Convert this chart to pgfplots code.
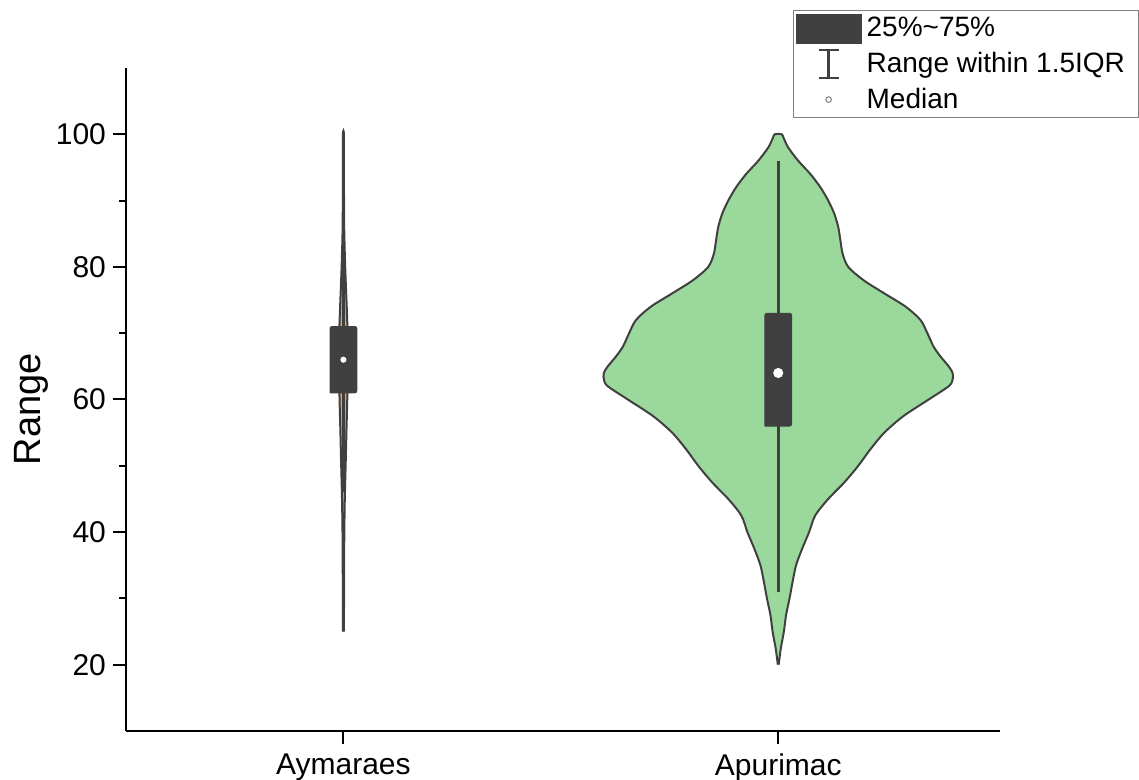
\documentclass[border=0pt]{standalone}
\usepackage{fontspec}
\setmainfont{Liberation Sans}
\usepackage{pgfplots}
\usepackage{pgfplotstable}
\pgfplotsset{compat=1.18}

\definecolor{boxgray}{RGB}{64,64,64}
\definecolor{violgreen}{RGB}{155,216,155}
\definecolor{violtan}{RGB}{226,160,100}
\definecolor{legframe}{RGB}{128,128,128}

% Violin outlines: y value and signed half-width (x units), right side going up, left side coming down
\pgfplotstableread{
y d
20 0.001
22.5 0.006
25 0.013
27.5 0.018
30 0.026
32.5 0.033
35 0.041
37.5 0.055
40 0.071
42.5 0.085
45 0.115
47.5 0.152
50 0.184
52.5 0.212
55 0.244
57.5 0.288
60 0.346
62 0.392
63 0.401
64 0.401
65 0.392
66.5 0.373
68 0.357
70 0.343
72 0.327
74 0.293
76 0.244
78 0.196
80 0.161
82 0.148
84 0.143
86 0.138
88 0.129
90 0.115
92 0.097
94 0.074
96 0.046
98 0.023
99.5 0.012
100 0.008
100 -0.008
99.5 -0.012
98 -0.023
96 -0.046
94 -0.074
92 -0.097
90 -0.115
88 -0.129
86 -0.138
84 -0.143
82 -0.148
80 -0.161
78 -0.196
76 -0.244
74 -0.293
72 -0.327
70 -0.343
68 -0.357
66.5 -0.373
65 -0.392
64 -0.401
63 -0.401
62 -0.392
60 -0.346
57.5 -0.288
55 -0.244
52.5 -0.212
50 -0.184
47.5 -0.152
45 -0.115
42.5 -0.085
40 -0.071
37.5 -0.055
35 -0.041
32.5 -0.033
30 -0.026
27.5 -0.018
25 -0.013
22.5 -0.006
20 -0.001
}\apurimac

\pgfplotstableread{
y d
25 0.0012
30 0.0014
35 0.0016
40 0.0021
45 0.0032
50 0.0051
55 0.0069
58 0.0081
61 0.0092
64 0.0101
66 0.0104
68 0.0101
71 0.0092
74 0.0076
77 0.0058
80 0.0041
83 0.0028
86 0.0018
90 0.0014
95 0.0012
100 0.0012
100 -0.0012
95 -0.0012
90 -0.0014
86 -0.0018
83 -0.0028
80 -0.0041
77 -0.0058
74 -0.0076
71 -0.0092
68 -0.0101
66 -0.0104
64 -0.0101
61 -0.0092
58 -0.0081
55 -0.0069
50 -0.0051
45 -0.0032
40 -0.0021
35 -0.0016
30 -0.0014
25 -0.0012
}\aymaraes

\begin{document}
\begin{tikzpicture}[x=1pt,y=1pt]
\useasboundingbox (0,0) rectangle (569.5,390);
\begin{axis}[
  at={(63pt,24.5pt)}, anchor=south west,
  scale only axis, width=437pt, height=331.5pt,
  xmin=0.5, xmax=2.51, ymin=10, ymax=110,
  axis x line*=bottom, axis y line*=left,
  axis line style={-, line width=1.3pt, black},
  xtick={1,2}, xticklabels={Aymaraes,Apurimac},
  ytick={20,40,60,80,100}, minor ytick={30,50,70,90},
  tick align=outside, major tick length=6.5pt, minor tick length=3.5pt,
  tick style={black, line width=1pt},
  /pgf/number format/assume math mode=true,
  ticklabel style={font=\fontsize{15}{17}\selectfont},
  xticklabel style={yshift=-1.5pt},
  ylabel={Range},
  ylabel style={font=\fontsize{19}{21}\selectfont, at={(axis description cs:-0.108,0.485)}, anchor=center},
  clip=false,
  legend style={at={(axis description cs:0.7632,1.0875)}, anchor=north west,
    draw=legframe, line width=0.6pt, fill=white,
    font=\fontsize{14}{16}\selectfont,
    inner xsep=1pt, inner ysep=1.5pt, row sep=2.6pt,
    nodes={inner sep=1pt, inner xsep=2.5pt}},
  legend cell align=left,
]
% Aymaraes
\addplot[forget plot, fill=violtan, draw=boxgray, line width=1pt, smooth]
  table[x expr=1+\thisrow{d}, y=y]{\aymaraes};
\addplot[forget plot, boxgray, line width=1.5pt] coordinates {(1,46) (1,86)};
\addplot[forget plot, fill=boxgray, draw=boxgray, line width=0.5pt, rounded corners=1pt]
  coordinates {(0.9693,61) (1.0307,61) (1.0307,71) (0.9693,71) (0.9693,61)};
\addplot[forget plot, only marks, mark=*, mark size=1.3pt, mark options={fill=white, draw=white}]
  coordinates {(1,66)};
% Apurimac
\addplot[forget plot, fill=violgreen, draw=boxgray, line width=1pt, smooth]
  table[x expr=2+\thisrow{d}, y=y]{\apurimac};
\addplot[forget plot, boxgray, line width=1.5pt] coordinates {(2,31) (2,96)};
\addplot[forget plot, fill=boxgray, draw=boxgray, line width=0.5pt, rounded corners=1pt]
  coordinates {(1.9693,56) (2.0307,56) (2.0307,73) (1.9693,73) (1.9693,56)};
\addplot[forget plot, only marks, mark=*, mark size=2.3pt, mark options={fill=white, draw=white}]
  coordinates {(2,64)};
% Legend
\addlegendimage{legend image code/.code={
  \fill[boxgray, draw=none] (-1.5pt,-7.5pt) rectangle (31.5pt,7.5pt);}}
\addlegendentry{25\%\textasciitilde 75\%}
\addlegendimage{legend image code/.code={
  \path[draw=none, fill=none] (-1.5pt,-7.5pt) rectangle (31.5pt,7.5pt);
  \draw[boxgray, fill=none, line width=1.3pt] (10pt,-7pt) -- (20pt,-7pt)
    (15pt,-7pt) -- (15pt,7pt) (10pt,7pt) -- (20pt,7pt);}}
\addlegendentry{Range within 1.5IQR\hspace*{3.5pt}}
\addlegendimage{legend image code/.code={
  \path[draw=none, fill=none] (-1.5pt,-7.5pt) rectangle (31.5pt,7.5pt);
  \draw[legframe, fill=white, line width=0.5pt] (15pt,0pt) circle (1.4pt);}}
\addlegendentry{Median}
\end{axis}
\end{tikzpicture}
\end{document}
